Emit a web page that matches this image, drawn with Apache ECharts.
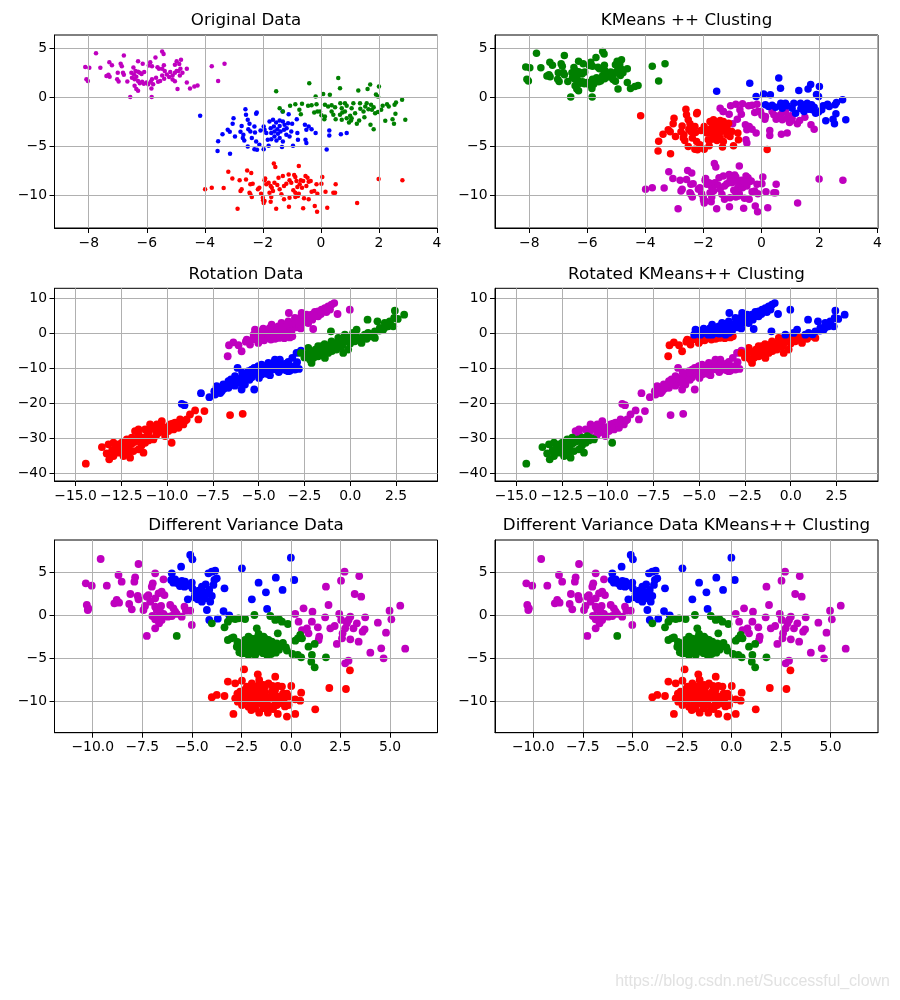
<!DOCTYPE html>
<html><head><meta charset="utf-8">
<script src="https://cdn.jsdelivr.net/npm/echarts@6/dist/echarts.min.js"></script>
<style>html,body{margin:0;padding:0;background:#fff}#c{width:900px;height:1000px}</style>
</head><body><div id="c"></div>
<script>
// label codes: 0 blue, 1 green, 2 red, 3 magenta ; third value = KMeans++ cluster
const titles = ['Original Data','KMeans ++ Clusting','Rotation Data','Rotated KMeans++ Clusting','Different Variance Data','Different Variance Data KMeans++ Clusting'];
const xTicksA = [-8,-6,-4,-2,0,2,4], yTicksA = [-10,-5,0,5];
const xTicksB = [-15,-12.5,-10,-7.5,-5,-2.5,0,2.5], yTicksB = [-40,-30,-20,-10,0,10];
const xTicksC = [-10,-7.5,-5,-2.5,0,2.5,5], yTicksC = [-10,-5,0,5];
const xRangeA = [-9.18,4.02], yRangeA = [-13.37,6.36];
const xRangeB = [-16.15,4.77], yRangeB = [-42.2,12.98];
const xRangeC = [-11.93,7.40], yRangeC = [-13.65,8.76];

const origMagenta = [[-7.75,4.50,1],[-6.79,4.27,1],[-5.47,4.67,1],[-5.42,4.43,1],[-5.70,4.07,1],[-4.82,3.83,1],[-4.97,3.67,1],[-8.12,3.10,1],[-7.98,3.00,1],[-7.60,3.00,1],[-7.29,3.57,1],[-7.20,3.27,1],[-6.90,3.43,1],[-6.86,3.17,1],[-6.30,3.67,1],[-6.14,3.43,1],[-5.88,3.57,1],[-5.93,3.23,1],[-5.82,3.17,1],[-5.63,3.07,1],[-5.58,2.90,1],[-5.41,3.27,1],[-5.03,3.33,1],[-4.88,3.40,1],[-4.62,2.90,1],[-8.08,1.83,1],[-8.03,1.67,1],[-7.39,2.17,1],[-7.32,2.30,1],[-7.28,2.10,1],[-7.00,2.50,1],[-6.82,2.50,1],[-6.79,2.30,1],[-7.02,1.83,1],[-6.97,1.60,1],[-6.67,1.60,1],[-6.53,2.50,1],[-6.44,2.33,1],[-6.39,2.67,1],[-6.46,3.03,1],[-6.30,2.60,1],[-6.24,2.50,1],[-6.18,2.37,1],[-6.09,2.57,1],[-6.51,2.00,1],[-6.42,1.83,1],[-6.36,2.10,1],[-6.30,1.67,1],[-6.24,1.43,1],[-6.16,1.57,1],[-6.10,1.37,1],[-6.42,1.17,1],[-6.36,0.83,1],[-6.30,0.67,1],[-6.01,1.50,1],[-5.95,1.33,1],[-5.86,1.57,1],[-5.82,1.83,1],[-5.68,2.00,1],[-5.61,1.57,1],[-5.54,1.67,1],[-5.84,0.90,1],[-5.78,1.33,1],[-5.47,2.90,1],[-5.38,2.67,1],[-5.31,2.33,1],[-5.19,2.57,1],[-5.11,2.23,1],[-5.03,2.50,1],[-4.97,2.67,1],[-5.23,2.07,1],[-5.11,1.80,1],[-5.03,1.63,1],[-4.91,2.67,1],[-4.86,2.23,1],[-4.77,2.50,1],[-4.84,2.90,1],[-5.47,2.23,1],[-5.40,1.90,1],[-4.94,0.83,1],[-4.62,1.50,1],[-4.51,0.90,1],[-4.36,1.10,1],[-4.25,1.20,1],[-6.57,0.03,1],[-5.83,0.03,1],[-3.76,3.17,1],[-3.32,3.43,1],[-3.54,1.67,1]];
const origBlue = [[-4.16,-1.90,2],[-2.60,-1.22,2],[-2.58,-1.80,2],[-2.21,-1.56,2],[-2.23,-1.70,2],[-3.01,-2.14,2],[-3.04,-2.72,2],[-2.52,-2.31,2],[-2.46,-2.72,2],[-2.50,-3.27,2],[-2.43,-3.50,2],[-2.73,-2.93,2],[-2.77,-3.54,2],[-2.67,-3.84,2],[-3.14,-3.54,2],[-3.21,-3.33,2],[-3.39,-3.78,2],[-3.54,-4.49,2],[-3.56,-5.51,2],[-3.13,-5.78,2],[-2.96,-4.01,2],[-2.69,-4.18,2],[-2.64,-4.42,2],[-2.29,-2.99,2],[-2.27,-3.61,2],[-2.23,-4.52,2],[-2.52,-5.03,2],[-2.29,-5.31,2],[-2.20,-5.37,2],[-1.97,-5.31,2],[-1.97,-2.99,2],[-1.94,-3.33,2],[-1.88,-3.67,2],[-1.77,-2.48,2],[-1.65,-2.31,2],[-1.54,-2.59,2],[-1.42,-2.38,2],[-1.31,-2.48,2],[-1.25,-2.82,2],[-1.13,-2.65,2],[-1.73,-3.16,2],[-1.62,-2.99,2],[-1.50,-3.27,2],[-1.39,-3.50,2],[-1.27,-3.33,2],[-1.71,-3.67,2],[-1.60,-4.01,2],[-1.48,-3.74,2],[-1.42,-4.18,2],[-1.83,-4.35,2],[-1.71,-4.29,2],[-1.80,-4.97,2],[-1.34,-5.10,2],[-1.31,-4.52,2],[-1.19,-3.84,2],[-1.02,-3.50,2],[-1.08,-4.01,2],[-0.96,-4.97,2],[-0.81,-3.67,2],[-0.79,-4.35,2],[-1.32,-1.46,3],[-1.11,-1.73,3],[-0.83,-2.24,3],[-0.99,-2.72,3],[-0.55,-2.82,3],[-0.50,-3.33,3],[-0.42,-2.99,3],[-0.32,-3.27,3],[-0.50,-4.69,3],[-0.18,-3.67,3],[0.29,-3.40,3],[0.29,-3.91,3],[0.69,-3.78,3],[0.89,-3.67,3],[0.20,-5.34,2],[-0.53,-4.35,3],[-2.08,-3.40,2],[-2.38,-4.18,2],[-2.12,-4.86,2],[-1.53,-4.42,2],[-1.18,-3.16,2],[-1.42,-2.93,2],[-1.60,-3.50,2]];
const origGreen = [[-0.40,1.43,0],[0.60,1.97,0],[0.66,0.92,0],[-1.54,0.61,0],[0.08,0.34,0],[0.31,0.24,0],[-0.18,0.07,0],[1.29,0.68,0],[1.61,0.85,0],[1.70,1.29,0],[2.00,1.09,0],[1.90,0.27,0],[1.97,0.07,0],[2.80,-0.27,0],[2.59,-0.54,0],[2.54,-0.78,0],[2.91,-2.31,0],[2.47,-2.24,0],[2.52,-2.72,0],[2.22,-2.41,0],[2.13,-0.88,0],[2.08,-1.29,0],[-1.42,-1.12,3],[-1.31,-1.46,3],[-1.06,-0.88,3],[-0.88,-0.71,3],[-0.65,-0.68,3],[-0.74,-1.29,3],[-0.69,-1.73,3],[-0.44,-0.88,3],[-0.32,-0.82,3],[-0.15,-0.71,3],[-0.23,-1.56,3],[-0.12,-1.46,3],[0.14,-0.78,0],[0.25,-0.95,0],[0.37,-0.82,0],[0.49,-1.02,0],[0.14,-1.97,3],[0.12,-2.24,3],[0.51,-2.24,3],[0.67,-0.61,0],[0.72,-1.12,0],[0.83,-0.61,0],[0.89,-0.88,0],[0.66,-1.80,3],[0.74,-1.56,3],[0.83,-1.46,3],[0.97,-2.59,3],[1.04,-2.38,3],[1.01,-1.90,3],[1.06,-1.12,0],[1.12,-0.61,0],[1.18,-1.63,0],[1.24,-2.72,3],[1.32,-2.38,3],[1.36,-1.19,0],[1.47,-1.46,0],[1.53,-0.95,0],[1.58,-0.61,0],[1.64,-1.22,0],[1.73,-0.78,0],[1.76,-1.29,0],[1.82,-1.02,0],[1.71,-2.82,3],[1.82,-3.27,3],[1.87,-1.63,0],[1.97,-1.50,0],[2.28,-0.71,0],[2.34,-0.95,0],[2.57,-1.70,0],[1.06,-2.14,3],[0.72,-2.31,3],[0.37,-1.46,3],[0.43,-1.80,3],[-0.03,-1.46,3],[0.02,-1.84,3],[1.50,-2.04,3],[1.35,-0.61,0],[0.89,-2.14,3]];
const origRed = [[-1.62,-6.77,3],[-1.57,-7.14,3],[-0.76,-7.04,3],[-3.19,-7.62,3],[-2.54,-7.48,3],[-2.40,-7.76,3],[-3.05,-8.30,3],[-2.80,-8.50,3],[-2.58,-8.40,3],[-2.43,-8.91,3],[-2.35,-8.84,3],[-3.99,-9.42,3],[-3.76,-9.25,3],[-3.35,-9.29,3],[-2.77,-9.59,3],[-2.73,-9.42,3],[-2.46,-9.76,3],[-2.38,-10.20,3],[-2.43,-9.93,3],[-2.17,-9.42,3],[-2.12,-9.25,3],[-1.94,-8.50,3],[-1.88,-8.91,3],[-1.92,-8.30,3],[-1.80,-8.74,3],[-1.73,-9.08,3],[-1.69,-9.25,3],[-2.06,-9.86,3],[-2.00,-10.27,3],[-1.94,-10.61,3],[-1.97,-10.82,3],[-1.77,-9.76,3],[-1.71,-10.20,3],[-1.65,-9.59,3],[-1.60,-8.74,3],[-1.50,-8.98,3],[-1.46,-8.23,3],[-1.42,-9.42,3],[-1.36,-9.93,3],[-1.31,-8.06,3],[-1.27,-9.08,3],[-1.19,-8.84,3],[-1.11,-7.89,3],[-1.08,-8.50,3],[-1.02,-8.74,3],[-0.92,-7.96,3],[-0.88,-8.16,3],[-0.84,-8.57,3],[-0.81,-9.18,3],[-0.73,-8.91,3],[-0.69,-8.50,3],[-0.65,-9.25,3],[-0.95,-9.52,3],[-0.88,-9.76,3],[-0.79,-10.10,3],[-0.76,-9.86,3],[-0.61,-8.57,3],[-0.53,-8.06,3],[-0.46,-8.23,3],[-0.50,-9.08,3],[-0.42,-8.64,3],[-0.35,-8.57,3],[-0.32,-9.66,3],[-0.23,-9.59,3],[-0.15,-8.91,3],[-0.12,-9.86,3],[0.05,-8.16,3],[0.02,-8.84,3],[0.16,-9.66,3],[0.43,-9.76,3],[0.51,-8.91,3],[0.49,-9.76,3],[-1.27,-10.44,3],[-1.08,-10.27,3],[-0.88,-10.20,3],[-0.58,-10.34,3],[-0.42,-10.44,3],[-0.21,-11.12,3],[-0.13,-11.70,3],[-0.61,-11.36,3],[-1.10,-11.19,3],[-1.54,-11.39,3],[-2.87,-11.39,3],[-1.99,-10.54,3],[-1.73,-10.68,3],[0.22,-11.29,3],[1.25,-10.82,3],[1.99,-8.37,3],[2.81,-8.50,3]];

const rotMagenta = [[-6.69,-6.48,2],[-6.62,-3.33,2],[-6.38,-2.48,2],[-5.93,-5.05,2],[-5.65,-1.71,2],[-5.47,-3.14,2],[-5.20,1.14,0],[-5.02,-1.24,2],[-4.93,-0.29,0],[-4.75,1.43,0],[-4.47,0.67,0],[-4.29,-0.29,0],[-4.11,1.14,0],[-3.93,2.10,0],[-4.56,-1.24,2],[-4.33,-1.71,2],[-3.75,3.05,0],[-3.56,1.62,0],[-3.38,3.52,0],[-3.35,5.90,0],[-3.29,0.67,0],[-3.16,-0.76,2],[-3.11,2.57,0],[-2.93,3.52,0],[-2.75,4.48,0],[-2.65,5.90,0],[-2.47,4.00,0],[-2.29,4.95,0],[-2.11,5.43,0],[-2.02,1.33,0],[-1.93,6.19,0],[-1.75,6.38,0],[-1.56,6.86,0],[-1.38,7.33,0],[-1.20,7.81,0],[-1.02,8.29,0],[-0.87,8.76,0],[-0.69,5.62,0],[-0.02,6.86,0],[-5.27,-0.29,0],[-5.02,-2.67,2],[-5.11,0.86,0],[-4.29,2.57,0],[-4.11,0.19,0],[-3.89,-1.24,2],[-3.56,-0.29,0],[-3.38,0.19,0],[-3.16,1.62,0],[-2.93,1.81,0],[-2.62,3.05,0],[-2.29,3.05,0],[-2.07,4.00,0],[-1.75,4.95,0],[-3.75,0.67,0],[-4.65,0.19,0],[-4.84,-0.76,2],[-3.47,2.57,0],[-3.02,4.48,0],[-2.38,5.43,0],[-5.30,-1.60,2],[-4.70,-1.90,2],[-4.10,-1.50,2],[-3.60,-1.30,2],[-3.30,-1.10,2],[-5.70,-2.30,2],[-4.95,-2.10,2],[-4.80,0.80,0],[-4.40,1.60,0],[-4.00,0.90,0],[-3.70,1.90,0],[-3.30,2.20,0],[-3.00,2.90,0],[-2.80,2.40,0],[-2.50,3.60,0],[-2.20,4.40,0],[-1.90,5.00,0],[-1.60,5.60,0],[-1.30,6.20,0],[-1.10,6.90,0],[-3.90,0.00,0],[-4.50,-0.30,0],[-3.20,0.80,0],[-2.70,1.50,0],[-4.90,-1.40,2],[-4.20,-0.90,2],[-3.50,-0.80,2],[-6.10,-3.30,2],[-5.50,-2.00,2]];
const rotBlue = [[-9.20,-20.10,3],[-9.05,-20.48,3],[-8.15,-17.05,3],[-7.69,-18.19,3],[-7.42,-16.48,3],[-7.29,-15.05,3],[-7.20,-15.52,3],[-7.02,-16.48,3],[-6.93,-14.57,3],[-6.65,-15.52,3],[-6.65,-13.62,3],[-6.51,-13.14,3],[-6.29,-12.19,3],[-6.15,-9.81,3],[-6.02,-14.10,3],[-5.84,-12.67,3],[-5.65,-11.90,3],[-5.56,-10.76,3],[-5.38,-12.48,3],[-5.24,-16.00,3],[-5.24,-9.81,3],[-5.11,-11.24,3],[-4.98,-12.67,3],[-4.84,-8.86,3],[-4.65,-10.29,3],[-4.47,-8.38,3],[-4.29,-9.81,3],[-4.11,-7.43,3],[-3.96,-8.86,3],[-3.75,-10.29,3],[-3.56,-8.67,3],[-3.38,-10.76,3],[-3.20,-9.81,3],[-3.02,-10.29,3],[-3.38,-8.10,3],[-3.16,-6.95,3],[-2.93,-5.52,3],[-2.69,-4.86,3],[-4.84,-11.71,3],[-4.55,-11.52,3],[-4.38,-11.90,3],[-5.93,-16.00,3],[-7.38,-17.43,3],[-6.29,-14.57,3],[-5.75,-14.57,3],[-5.38,-10.29,3],[-5.02,-9.33,3],[-4.20,-8.38,3],[-3.84,-7.43,3],[-6.00,-12.90,3],[-5.50,-13.20,3],[-4.70,-9.60,3],[-4.00,-9.50,3],[-3.60,-9.90,3],[-5.90,-11.20,3],[-6.40,-13.90,3],[-6.80,-14.90,3],[-4.40,-10.60,3],[-3.90,-11.00,3],[-5.20,-10.50,3],[-5.60,-12.60,3],[-4.10,-10.20,3],[-3.40,-9.30,3],[-6.90,-15.80,3],[-6.20,-13.30,3],[-5.90,-13.60,3],[-5.30,-11.60,3],[-5.00,-11.90,3],[-4.60,-10.90,3],[-4.20,-9.30,3],[-3.80,-8.50,3],[-3.50,-10.50,3],[-3.10,-9.40,3],[-2.90,-8.20,3],[-4.90,-10.20,3],[-5.50,-11.30,3],[-6.30,-14.90,3],[-7.10,-17.00,3],[-4.50,-9.00,3],[-3.30,-10.60,3],[-2.80,-10.10,3]];
const rotGreen = [[-2.69,-5.52,2],[-2.29,-4.10,2],[-2.20,-7.43,2],[-2.02,-5.52,2],[-1.75,-3.62,2],[-1.56,-5.05,2],[-1.38,-6.95,2],[-1.20,-4.10,2],[-1.02,-2.19,2],[-0.84,-3.62,2],[-0.65,-2.67,2],[-1.05,0.67,0],[-0.47,-2.19,2],[-0.29,-0.29,0],[-0.11,-1.71,2],[0.07,-0.76,2],[-0.38,-5.52,2],[-0.11,-4.57,2],[0.35,1.14,0],[0.44,-1.24,2],[0.62,-2.67,2],[0.80,-0.29,0],[0.98,0.19,0],[1.16,-0.76,2],[1.35,0.67,0],[0.95,4.00,0],[1.49,3.52,0],[1.89,3.05,0],[2.07,2.10,0],[2.16,3.52,0],[2.44,6.57,0],[2.95,5.43,0],[2.40,4.48,0],[2.35,2.10,0],[1.62,1.62,0],[1.80,1.14,0],[-2.11,-8.38,2],[-1.75,-6.48,2],[-1.20,-5.52,2],[-0.75,-4.57,2],[0.25,-2.19,2],[-0.65,-1.24,2],[0.16,0.19,0],[1.35,-1.24,2],[-1.56,-3.62,2],[-1.90,-4.60,2],[-1.40,-3.00,2],[-0.90,-4.00,2],[-0.40,-3.20,2],[0.00,-2.80,2],[0.60,-1.60,2],[-1.00,-5.00,2],[-2.40,-6.00,2],[-0.20,-2.20,2],[0.30,-0.90,2],[-2.50,-6.80,2],[-2.10,-5.30,2],[-1.80,-6.00,2],[-1.60,-4.40,2],[-1.30,-4.90,2],[-1.10,-3.30,2],[-0.80,-2.90,2],[-0.50,-3.80,2],[-0.30,-1.20,2],[0.10,-2.10,2],[0.40,-1.70,2],[0.70,-0.90,2],[0.90,-1.50,2],[1.20,-0.20,0],[1.60,0.90,0],[1.90,1.80,0],[2.20,2.60,0],[2.60,4.20,0],[-2.00,-6.90,2],[-1.50,-6.20,2]];
const rotRed = [[-14.44,-37.24,1],[-13.56,-32.48,1],[-13.20,-31.71,1],[-12.93,-31.24,1],[-12.65,-31.71,1],[-13.16,-36.00,1],[-12.93,-35.05,1],[-12.65,-34.10,1],[-12.38,-35.05,1],[-12.02,-35.52,1],[-12.56,-32.67,1],[-12.29,-32.19,1],[-12.02,-31.71,1],[-11.75,-30.95,1],[-11.84,-33.62,1],[-11.56,-33.14,1],[-11.29,-34.10,1],[-11.56,-28.86,3],[-11.38,-29.81,1],[-11.11,-29.33,1],[-10.93,-26.00,3],[-11.20,-31.24,1],[-11.02,-30.57,1],[-10.75,-30.29,1],[-10.65,-27.43,3],[-10.47,-28.38,3],[-10.29,-25.05,3],[-10.20,-26.95,3],[-10.11,-29.33,3],[-9.93,-27.90,3],[-9.75,-31.24,1],[-9.84,-26.00,3],[-9.56,-25.52,3],[-9.29,-24.57,3],[-9.65,-27.43,3],[-9.38,-26.95,3],[-9.11,-26.00,3],[-8.93,-24.57,3],[-8.75,-23.14,3],[-8.47,-22.00,3],[-8.29,-24.57,3],[-7.96,-22.19,3],[-6.56,-23.33,3],[-5.87,-22.95,3],[-12.29,-34.57,1],[-12.11,-33.62,1],[-12.47,-31.24,1],[-12.20,-30.29,1],[-11.75,-27.90,3],[-11.56,-27.43,3],[-11.20,-27.43,3],[-10.84,-26.95,3],[-10.56,-26.00,3],[-10.29,-26.48,3],[-11.29,-30.76,1],[-11.93,-29.81,1],[-13.00,-33.40,1],[-12.80,-32.50,1],[-12.40,-33.60,1],[-12.10,-32.60,1],[-11.90,-31.40,1],[-11.60,-30.30,1],[-11.40,-32.00,1],[-10.90,-29.90,1],[-11.00,-28.20,3],[-10.60,-29.20,3],[-10.30,-27.70,3],[-10.00,-26.80,3],[-9.70,-25.80,3],[-9.40,-25.60,3],[-9.00,-24.90,3],[-12.70,-33.20,1],[-13.30,-34.30,1]];

const varMagenta = [[-9.60,6.55],[-10.35,3.72],[-10.05,3.45],[-10.30,1.20],[-10.22,0.81],[-10.25,0.62],[-9.29,3.45],[-8.70,4.69],[-8.54,3.91],[-7.69,5.97],[-7.86,4.42],[-7.90,3.91],[-8.91,1.40],[-8.79,1.78],[-8.67,1.47],[-8.16,1.32],[-8.03,0.70],[-8.10,2.48],[-7.73,2.25],[-7.69,1.86],[-7.44,0.62],[-7.27,-2.40],[-7.19,2.36],[-7.02,3.33],[-6.97,3.72],[-6.85,4.88],[-7.27,2.17],[-7.10,1.59],[-6.85,1.98],[-6.68,2.56],[-6.52,2.75],[-6.38,2.36],[-6.85,1.01],[-6.77,0.62],[-6.55,1.09],[-6.99,-0.08],[-6.85,-0.47],[-6.72,-0.23],[-6.60,0.43],[-6.43,0.16],[-6.21,-0.16],[-6.01,-0.08],[-6.52,-0.54],[-6.65,-0.93],[-6.85,-1.51],[-6.43,4.19],[-5.84,0.43],[-5.76,0.16],[-5.37,1.01],[-5.30,0.54],[-5.08,0.54],[-5.51,-0.16],[-5.00,-1.12],[-6.09,1.20],[-5.93,0.81],[-7.36,1.09],[0.22,0.16],[0.39,-0.74],[0.64,0.81],[1.09,0.43],[0.56,-1.71],[0.81,-1.51],[0.89,-2.09],[1.06,-0.74],[1.36,-1.40],[1.43,-2.48],[1.40,-2.87],[1.73,-0.23],[1.77,3.33],[1.90,1.20],[1.99,-1.51],[2.21,-1.24],[2.32,-3.33],[2.44,0.16],[2.54,-0.54],[2.61,-2.09],[2.74,-1.51],[2.83,-0.93],[2.91,-0.54],[3.00,-0.16],[3.00,-2.79],[2.71,5.08],[2.53,4.03],[2.74,-5.58],[2.91,-5.27],[3.22,2.48],[3.45,4.57],[3.55,2.17],[3.42,-3.06],[3.62,-1.90],[3.75,-0.23],[3.72,-1.63],[4.01,-4.34],[4.39,-0.85],[4.56,-3.84],[4.68,-5.00],[4.80,-2.02],[4.98,0.54],[5.07,-0.47],[5.52,1.12],[5.77,-3.88],[3.33,-0.93],[3.16,-1.51],[2.58,-2.67]];
const varBlue = [[-5.08,7.02],[-4.97,6.51],[-5.54,5.66],[-6.01,4.88],[-6.04,4.11],[-5.93,3.80],[-5.84,4.19],[-5.71,3.72],[-5.34,3.91],[-5.00,3.80],[-5.37,3.33],[-4.97,3.14],[-4.83,2.56],[-4.66,2.87],[-4.49,3.33],[-4.87,2.09],[-4.70,1.86],[-4.49,2.48],[-4.33,1.98],[-4.24,2.56],[-4.12,2.95],[-3.99,2.25],[-4.07,1.59],[-4.24,0.62],[-4.16,4.88],[-3.99,5.08],[-3.82,5.19],[-3.74,4.30],[-3.86,4.11],[-3.91,3.53],[-3.35,3.14],[-4.12,-0.54],[-3.69,-0.39],[-3.40,0.50],[-3.11,0.00],[-2.47,5.47],[0.00,6.71],[-1.63,3.80],[-1.26,2.67],[-1.97,1.86],[-0.76,4.38],[0.17,4.11],[-1.20,0.74],[-0.42,2.95],[-5.20,1.86],[-4.49,1.59],[-5.60,3.40],[-5.20,3.50],[-4.60,2.20],[-4.40,2.70],[-4.30,3.60],[-5.50,4.00]];
const varGreen = [[-5.76,-2.40],[-3.99,-0.93],[-3.35,-1.40],[-3.18,-0.74],[-3.06,-0.39],[-2.81,-0.43],[-2.64,-0.35],[-2.31,-0.43],[-1.84,0.04],[-1.72,-1.51],[-1.04,-0.08],[-0.79,-0.54],[-0.59,-0.47],[-0.45,-0.74],[-0.15,-1.01],[-0.66,-2.09],[-3.18,-2.87],[-3.01,-2.67],[-2.90,-2.56],[-2.73,-3.64],[-2.56,-4.03],[-2.47,-4.42],[-2.31,-2.87],[-2.14,-2.48],[-1.97,-2.71],[-1.80,-2.87],[-1.63,-3.06],[-1.46,-3.26],[-1.30,-3.33],[-1.13,-3.57],[-0.96,-3.64],[-0.79,-3.72],[-2.31,-3.64],[-2.05,-3.84],[-1.80,-4.03],[-1.55,-4.22],[-1.30,-3.84],[-1.04,-4.03],[-0.76,-4.34],[-2.22,-3.26],[-1.97,-3.45],[-1.72,-3.57],[-1.46,-3.72],[-1.21,-2.87],[-0.96,-3.06],[-0.71,-3.26],[-0.45,-3.57],[-0.25,-3.72],[-1.89,-4.42],[-1.63,-2.17],[-1.38,-2.48],[-2.14,-4.61],[-2.56,-3.26],[0.22,-2.95],[0.35,-2.67],[0.47,-2.29],[0.56,-2.67],[0.08,-4.50],[0.35,-4.61],[0.52,-4.88],[0.89,-3.64],[1.06,-4.61],[1.20,-3.33],[1.03,-5.39],[1.20,-6.05],[1.77,-4.88],[-1.80,-3.33],[-1.55,-2.79],[-1.13,-2.87],[-2.40,-4.10],[-2.00,-4.30],[-1.40,-4.40],[-1.00,-4.50],[-0.60,-4.00],[-2.60,-3.90],[-2.40,-3.20],[-2.20,-3.90],[-2.00,-3.00],[-1.90,-3.80],[-1.70,-3.20],[-1.60,-3.90],[-1.50,-3.00],[-1.40,-3.50],[-1.20,-3.20],[-1.10,-4.20],[-0.90,-3.40],[-0.80,-3.90],[-0.60,-3.60],[-2.60,-4.30],[-2.30,-4.40],[-1.80,-4.60],[-1.20,-4.60],[-2.10,-2.90],[-1.70,-2.60],[-1.30,-2.70],[-0.40,-3.20],[-0.20,-4.10],[-2.70,-3.10]];
const varRed = [[-2.36,-6.28],[-1.67,-6.86],[-0.79,-7.13],[-3.18,-7.71],[-2.81,-7.91],[-2.47,-7.60],[-2.22,-8.29],[-1.97,-7.91],[-1.80,-8.49],[-1.60,-7.52],[-1.38,-8.10],[-1.13,-7.91],[-0.93,-8.22],[-0.66,-8.22],[-0.45,-8.29],[0.02,-8.22],[0.52,-8.99],[-3.99,-9.53],[-3.74,-9.26],[-3.35,-9.38],[-2.81,-9.65],[-2.68,-10.04],[-2.56,-8.88],[-2.34,-9.07],[-2.14,-9.26],[-1.89,-9.46],[-1.63,-9.15],[-1.38,-9.38],[-1.13,-9.65],[-0.88,-9.26],[-0.62,-9.46],[-0.37,-9.84],[-0.12,-9.46],[0.22,-9.77],[0.47,-9.92],[-2.47,-10.43],[-2.14,-10.62],[-1.80,-10.81],[-1.55,-10.23],[-1.30,-10.43],[-1.04,-10.62],[-0.71,-10.43],[-0.45,-10.23],[-0.12,-10.43],[-2.90,-11.47],[-2.00,-11.01],[-1.60,-11.32],[-1.16,-11.32],[-0.66,-11.47],[-0.20,-11.78],[0.22,-11.47],[1.23,-10.93],[1.94,-8.45],[2.78,-8.57],[2.98,-6.40],[-1.97,-8.68],[-1.46,-8.68],[-0.96,-8.88],[-2.22,-9.84],[-1.63,-9.84],[-0.79,-10.04],[-1.30,-8.29],[-1.89,-10.23],[-2.60,-9.50],[-2.40,-9.90],[-2.10,-9.70],[-1.90,-9.00],[-1.70,-10.00],[-1.50,-9.60],[-1.30,-9.00],[-1.20,-10.00],[-1.00,-9.50],[-0.80,-8.70],[-0.60,-9.80],[-0.40,-9.10],[-0.30,-10.60],[-1.40,-10.80],[-1.90,-8.20],[-2.30,-8.60],[-1.60,-8.10],[-0.90,-10.90],[-2.70,-9.10],[-0.20,-9.10]];

const COLORS = ['#0000ff','#008000','#ff0000','#bf00bf'];
const GRIDS = [
  {left:54.5, top:35, width:383, height:193},
  {left:495, top:35, width:383, height:193},
  {left:54.5, top:288.3, width:383, height:192.7},
  {left:495, top:288.3, width:383, height:192.7},
  {left:54.5, top:540, width:383, height:192.7},
  {left:495, top:540, width:383, height:192.7}
];
const AX = [
  [xRangeA,yRangeA,xTicksA,yTicksA,false],[xRangeA,yRangeA,xTicksA,yTicksA,false],
  [xRangeB,yRangeB,xTicksB,yTicksB,true],[xRangeB,yRangeB,xTicksB,yTicksB,true],
  [xRangeC,yRangeC,xTicksC,yTicksC,true],[xRangeC,yRangeC,xTicksC,yTicksC,true]
];
const FONT = 'DejaVu Sans';
function fmt(dec){ return v => (dec ? Number(v).toFixed(1) : String(Math.round(v))).replace('-', '\u2212'); }
function mkAxis(kind, i, range, ticks, dec){
  return {
    type:'value', gridIndex:i, min:range[0], max:range[1], z:3,
    axisLine:{show:true, onZero:false, lineStyle:{color:'#000', width:1}},
    axisTick:{show:true, inside:false, length:5, customValues:ticks, lineStyle:{color:'#000', width:1}},
    axisLabel:{show:true, customValues:ticks, formatter:fmt(dec), color:'#000', fontFamily:FONT, fontSize:13.9, margin: kind==='x'?8:7.5},
    splitLine:{show:true, lineStyle:{color:'#b0b0b0', width:1}}
  };
}
const xAxis = [], yAxis = [];
AX.forEach((a,i)=>{ xAxis.push(mkAxis('x',i,a[0],a[2],a[4])); yAxis.push(mkAxis('y',i,a[1],a[3],false)); });

function ser(gi, colorIdx, pts, size){
  return {type:'scatter', xAxisIndex:gi, yAxisIndex:gi, symbol:'circle', symbolSize:size,
    data: pts.map(p=>[p[0],p[1]]), itemStyle:{color:COLORS[colorIdx], opacity:1}, silent:true, animation:false, z:2};
}
function byTrue(gi, groups, size){ return groups.map(g=>ser(gi, g[1], g[0], size)); }
function byKm(gi, sets, size){
  const all = [].concat(...sets);
  return [3,2,0,1].map(c=>ser(gi, c, all.filter(p=>p[2]===c), size));
}
const series = [].concat(
  byTrue(0, [[origMagenta,3],[origBlue,0],[origGreen,1],[origRed,2]], 4.5),
  byKm(1, [origMagenta,origBlue,origGreen,origRed], 7.5),
  byTrue(2, [[rotMagenta,3],[rotBlue,0],[rotGreen,1],[rotRed,2]], 7.8),
  byKm(3, [rotMagenta,rotBlue,rotGreen,rotRed], 7.8),
  byTrue(4, [[varMagenta,3],[varBlue,0],[varGreen,1],[varRed,2]], 7.8),
  byTrue(5, [[varMagenta,3],[varBlue,0],[varGreen,1],[varRed,2]], 7.8)
);
const titleY = [21,21,274.5,274.5,526,526];
const graphic = titles.map((t,i)=>({type:'text', x: GRIDS[i].left + GRIDS[i].width/2, y: titleY[i], silent:true,
  style:{text:t, fill:'#000', font:'16.7px "DejaVu Sans"', align:'center', verticalAlign:'middle'}}));
graphic.push({type:'text', x:890, y:982, silent:true, style:{text:'https://blog.csdn.net/Successful_clown', fill:'#e2e2e2', font:'16px "Liberation Sans"', align:'right', verticalAlign:'middle'}});

const chart = echarts.init(document.getElementById('c'), null, {renderer:'canvas'});
chart.setOption({
  animation:false, backgroundColor:'#fff',
  grid: GRIDS.map(g=>Object.assign({show:true, borderColor:'#000', borderWidth:1, backgroundColor:'transparent', containLabel:false}, g)),
  xAxis, yAxis, series, graphic
});
</script></body></html>
